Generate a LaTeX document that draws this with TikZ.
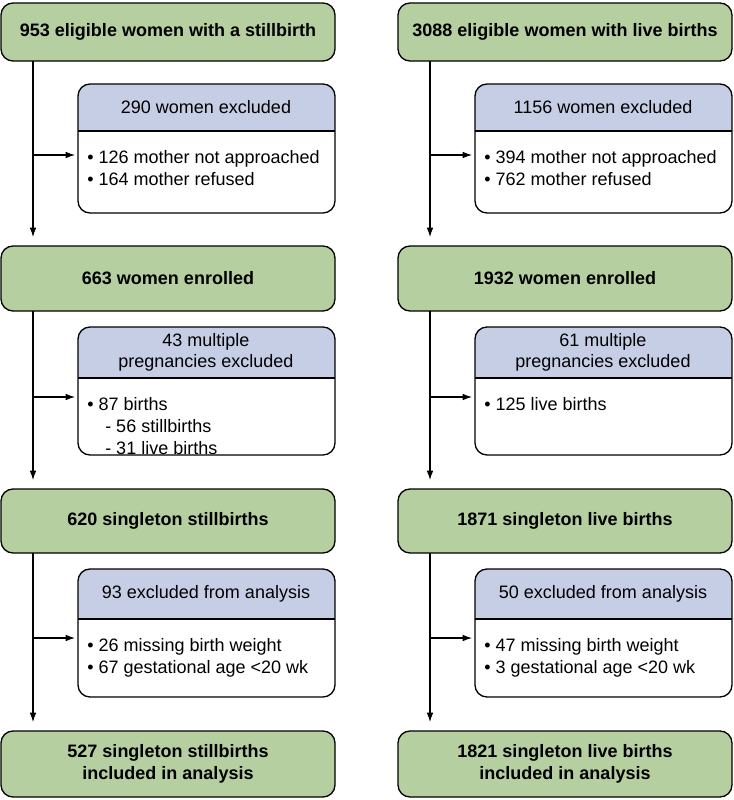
\documentclass[tikz,border=0pt]{standalone}
\usepackage{fontspec}
\setmainfont{Liberation Sans}
\usetikzlibrary{arrows.meta}
\definecolor{grn}{RGB}{182,207,160}
\definecolor{blu}{RGB}{198,206,230}
\begin{document}
\begin{tikzpicture}[x=0.75pt,y=-0.75pt,
 green/.style={draw=black,line width=1pt,fill=grn,rounded corners=9pt},
 gtxt/.style={font=\bfseries\fontsize{13.5}{16}\selectfont,align=center},
 hdr/.style={font=\fontsize{13.5}{16}\selectfont,align=center},
 itm/.style={font=\fontsize{13.5}{16.5}\selectfont,align=left,anchor=north west,inner sep=0pt},
 arr/.style={-{Latex[length=7pt,width=5pt]},line width=0.8pt}]
\useasboundingbox (0,0) rectangle (733,800);
\foreach \X/\L/\A/\B/\C/\D/\Ea/\Eb/\Fa/\Fb/\Fc/\G/\S in
 {0/953 eligible women with a stillbirth/663 women enrolled/620 singleton stillbirths/527 singleton stillbirths\\included in analysis/290 women excluded/43 multiple\\pregnancies excluded/93 excluded from analysis/{\textbullet\ 126 mother not approached\\\textbullet\ 164 mother refused}/{\textbullet\ 87 births\\\hspace{1em}- 56 stillbirths\\\hspace{1em}- 31 live births}/{\textbullet\ 26 missing birth weight\\\textbullet\ 67 gestational age <20 wk}/33/l,
  397/3088 eligible women with live births/1932 women enrolled/1871 singleton live births/1821 singleton live births\\included in analysis/1156 women excluded/61 multiple\\pregnancies excluded/50 excluded from analysis/{\textbullet\ 394 mother not approached\\\textbullet\ 762 mother refused}/{\textbullet\ 125 live births}/{\textbullet\ 47 missing birth weight\\\textbullet\ 3 gestational age <20 wk}/430/r}{
 \begin{scope}[xshift=\X*0.75pt]
 \path[green] (1,3) rectangle (335,61);
 \node[gtxt] (\S g1) at (168,32) {\L};
 \path[green] (1,246) rectangle (335,311);
 \node[gtxt] (\S g2) at (168,278) {\A};
 \path[green] (1,489) rectangle (335,553);
 \node[gtxt] (\S g3) at (168,521) {\B};
 \path[green] (1,731) rectangle (335,797);
 \node[gtxt] (\S g4) at (168,764) {\C};
 \foreach \T/\Bt/\Hb/\Hd/\Body/\k in {84/213/131/\D/\Fa/1,327/455/378/\Ea/\Fb/2,569/697/619/\Eb/\Fc/3}{
  \begin{scope}
  \clip[rounded corners=9pt] (78,\T) rectangle (335,\Bt);
  \fill[blu] (78,\T) rectangle (335,\Hb);
  \end{scope}
  \draw[line width=1pt,rounded corners=9pt] (78,\T) rectangle (335,\Bt);
  \draw[line width=0.8pt] (78,\Hb) -- (335,\Hb);
  \node[hdr] (\S h\k) at (206,{(\T+\Hb)/2}) {\Hd};
  \node[itm] (\S b\k) at (87,{\Hb+19}) {\Body};
 }
 \end{scope}
 \coordinate (\S t1) at (\G,61); \coordinate (\S t2) at (\G,237);
 \coordinate (\S t3) at (\G,311); \coordinate (\S t4) at (\G,480);
 \coordinate (\S t5) at (\G,553); \coordinate (\S t6) at (\G,722);
 \draw[arr] (\S t1) -- (\S t2);
 \draw[arr] (\S t3) -- (\S t4);
 \draw[arr] (\S t5) -- (\S t6);
 \coordinate (\S a1) at (\G,155); \coordinate (\S c1) at (\G+42,155);
 \coordinate (\S a2) at (\G,397); \coordinate (\S c2) at (\G+42,397);
 \coordinate (\S a3) at (\G,638); \coordinate (\S c3) at (\G+42,638);
 \draw[arr] (\S a1) -- (\S c1);
 \draw[arr] (\S a2) -- (\S c2);
 \draw[arr] (\S a3) -- (\S c3);
}
\end{tikzpicture}
\end{document}
